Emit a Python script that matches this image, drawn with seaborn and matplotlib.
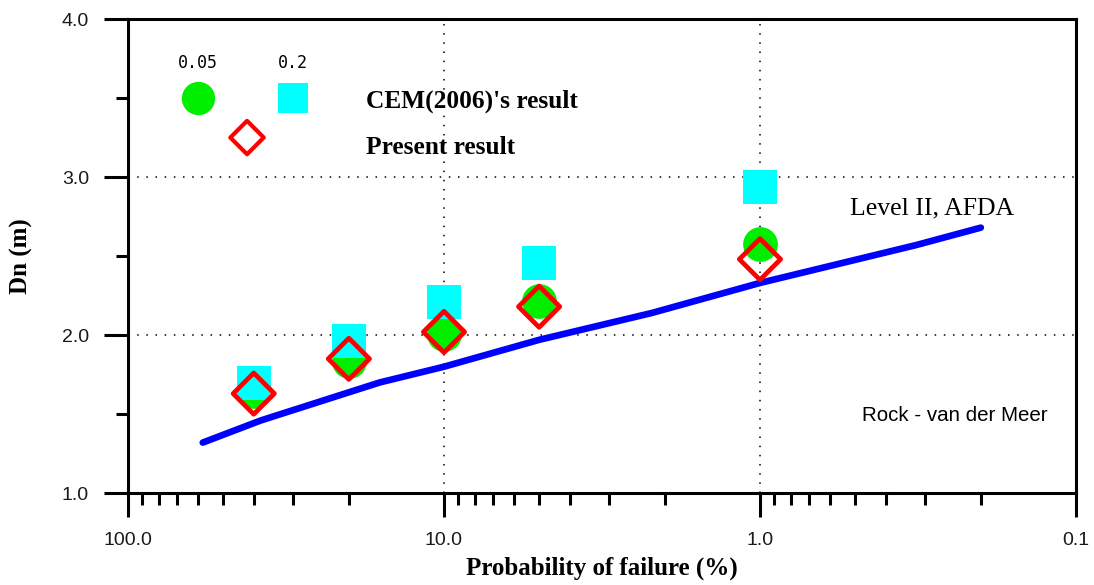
import numpy as np
import pandas as pd
import matplotlib
matplotlib.use("Agg")
import matplotlib.pyplot as plt
from matplotlib.ticker import FixedLocator, FixedFormatter, LogLocator, NullFormatter
import seaborn as sns

# Level II (AFDA) curve
afda_prob = [58, 38, 16, 10, 5, 2.2, 1.0, 0.32, 0.2]
afda_dn = [1.32, 1.46, 1.70, 1.80, 1.97, 2.14, 2.33, 2.57, 2.68]

# Point estimates at fixed failure probabilities
point_prob = [40, 20, 10, 5, 1]
cem_005 = [1.645, 1.835, 2.01, 2.215, 2.575]
cem_02 = [1.70, 1.96, 2.21, 2.455, 2.94]
present = [1.63, 1.85, 2.02, 2.18, 2.48]

x_ticks = [100, 10, 1, 0.1]
x_tick_labels = ["100.0", "10.0", "1.0", "0.1"]
y_ticks = [1.0, 2.0, 3.0, 4.0]
y_tick_labels = ["1.0", "2.0", "3.0", "4.0"]

sns.set_style("white")
plt.rcParams["font.family"] = ["Liberation Serif", "DejaVu Serif"]
plt.rcParams["text.color"] = "black"
plt.rcParams["axes.labelcolor"] = "black"

fig = plt.figure(figsize=(10.94, 5.85), dpi=100)
ax = fig.add_axes([0.117, 0.157, 0.8665, 0.8105])

curve = pd.DataFrame({"p": afda_prob, "dn": afda_dn})
pts = pd.DataFrame({"p": point_prob, "c005": cem_005, "c02": cem_02, "pres": present})

sns.lineplot(data=curve, x="p", y="dn", sort=False, color="#0000ff",
             linewidth=4.8, ax=ax, zorder=3)
sns.scatterplot(data=pts, x="p", y="c005", marker="o", s=25**2, color="#00ee00",
                linewidth=0, ax=ax, zorder=4)
sns.scatterplot(data=pts, x="p", y="c02", marker="s", s=25**2, color="#00ffff",
                linewidth=0, ax=ax, zorder=5)
sns.scatterplot(data=pts, x="p", y="pres", marker="D", s=21**2, facecolors="none",
                edgecolor="#ff0000", linewidth=3.4, ax=ax, zorder=6)

# in-plot key
ax.scatter([60], [3.5], marker="o", s=24**2, color="#00ee00", linewidth=0, zorder=4)
ax.scatter([30], [3.5], marker="s", s=21.5**2, color="#00ffff", linewidth=0, zorder=4)
ax.scatter([42], [3.25], marker="D", s=17**2, facecolors="none", edgecolors="#ff0000",
           linewidths=3.0, zorder=4)
ax.text(60, 3.72, "0.05", family="DejaVu Sans Mono", fontsize=12, ha="center", va="center")
ax.text(30, 3.72, "0.2", family="DejaVu Sans Mono", fontsize=12, ha="center", va="center")
ax.text(17.7, 3.48, "CEM(2006)'s result", fontsize=18.3, fontweight="bold", ha="left", va="center")
ax.text(17.7, 3.19, "Present result", fontsize=18.3, fontweight="bold", ha="left", va="center")
ax.text(0.52, 2.80, "Level II, AFDA", fontsize=18.5, ha="left", va="center")
ax.text(0.475, 1.494, "Rock - van der Meer", family="Liberation Sans", fontsize=14.8,
        ha="left", va="center")

ax.set_xscale("log")
ax.set_xlim(100, 0.1)
ax.set_ylim(1.0, 4.0)

ax.xaxis.set_major_locator(FixedLocator(x_ticks))
ax.xaxis.set_major_formatter(FixedFormatter(x_tick_labels))
ax.xaxis.set_minor_locator(LogLocator(base=10, subs=np.arange(2, 10)))
ax.xaxis.set_minor_formatter(NullFormatter())
ax.yaxis.set_major_locator(FixedLocator(y_ticks))
ax.yaxis.set_major_formatter(FixedFormatter(y_tick_labels))
ax.yaxis.set_minor_locator(FixedLocator([1.5, 2.5, 3.5]))

ax.tick_params(which="major", direction="out", length=17, width=2.2, color="black",
               labelsize=14, pad=11, bottom=True, left=True)
ax.tick_params(which="minor", direction="out", length=8.5, width=2.2, color="black",
               bottom=True, left=True)
for lab in ax.get_xticklabels() + ax.get_yticklabels():
    lab.set_family("Liberation Sans")
    lab.set_color("#1a1a1a")

for sp in ax.spines.values():
    sp.set_visible(True)
    sp.set_linewidth(2.2)
    sp.set_color("black")

ax.grid(True, which="major", color="black", linestyle=(0, (1, 5)), linewidth=1.1)
ax.set_axisbelow(True)

ax.set_xlabel("Probability of failure (%)", fontsize=18, fontweight="bold")
ax.set_ylabel("Dn (m)", fontsize=18, fontweight="bold")
ax.yaxis.set_label_coords(-0.100, 0.5)
ax.xaxis.set_label_coords(0.5, -0.133)

fig.savefig("out.png", dpi=100)
